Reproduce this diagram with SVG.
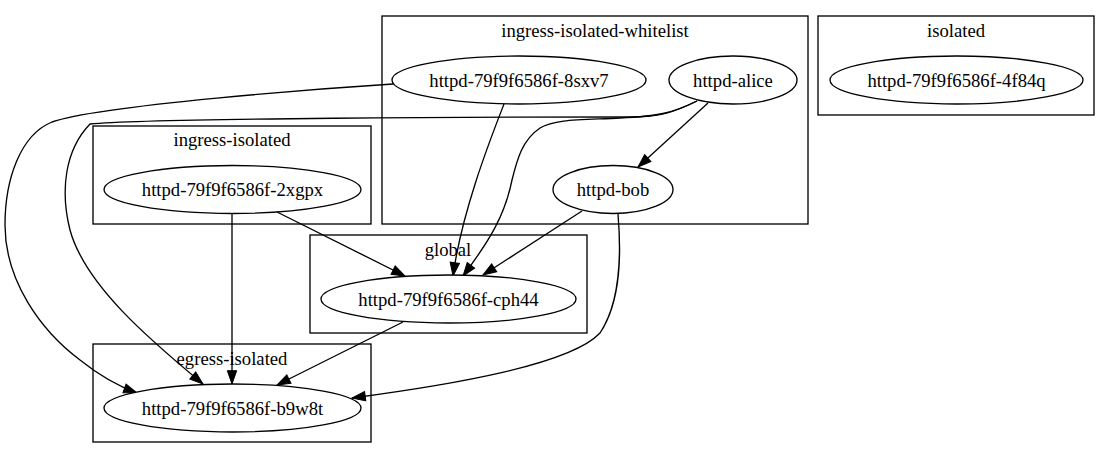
<svg xmlns="http://www.w3.org/2000/svg" width="1110" height="459" viewBox="0 0 1110 459">
<style>
text{font-family:"Liberation Serif","Times New Roman",serif;font-size:18.67px;text-anchor:middle;fill:#000}
.cl{fill:none;stroke:#000;stroke-width:1.33}
.nd{fill:#fff;stroke:#000;stroke-width:1.33}
.ed{fill:none;stroke:#000;stroke-width:1.33;marker-end:url(#ah)}
</style>
<defs>
<marker id="ah" markerUnits="userSpaceOnUse" markerWidth="14" markerHeight="10" refX="13.3" refY="4.67" orient="auto" overflow="visible">
<path d="M0,0 L13.3,4.67 L0,9.33 z" fill="#000" stroke="#000" stroke-width="1"/>
</marker>
</defs>
<rect width="1110" height="459" fill="#fff"/>
<g id="clusters">
<g id="cluster-whitelist"><rect class="cl" x="382" y="16" width="426" height="208"/><text x="595" y="37">ingress-isolated-whitelist</text></g>
<g id="cluster-isolated"><rect class="cl" x="818" y="16" width="276" height="99"/><text x="956" y="37">isolated</text></g>
<g id="cluster-ingress-isolated"><rect class="cl" x="93" y="126" width="278" height="98"/><text x="232" y="146">ingress-isolated</text></g>
<g id="cluster-global"><rect class="cl" x="310" y="235" width="277" height="98"/><text x="448" y="256">global</text></g>
<g id="cluster-egress-isolated"><rect class="cl" x="93" y="344" width="278" height="98"/><text x="232" y="365">egress-isolated</text></g>
</g>
<g id="connectors">
<path class="ed" d="M393,84 C330,88 100,105 52,122 C20,135 5,180 5,225 C5,280 40,330 80,360 C95,372 115,385 137,393"/>
<path class="ed" d="M697,101 C675,112 660,117 630,117 C500,117 150,118 90,124 C65,150 60,190 70,230 C85,285 150,340 203,384"/>
<path class="ed" d="M697,101 C672,113 660,116 620,118 C580,120 555,119 540,128 C522,140 517,160 512,180 C505,215 490,240 463,276"/>
<path class="ed" d="M504,104 C492,135 462,210 453,276"/>
<path class="ed" d="M708,103 L638,167"/>
<path class="ed" d="M582,211 L483,275"/>
<path class="ed" d="M618,214 C621,250 622,300 600,333 C570,365 450,385 352,398"/>
<path class="ed" d="M232,213 L232,384"/>
<path class="ed" d="M277,212 L405,276"/>
<path class="ed" d="M403,322 L277,385"/>
</g>
<g id="node-8sxv7"><ellipse class="nd" cx="519" cy="80" rx="127" ry="24"/><text x="519" y="86.5">httpd-79f9f6586f-8sxv7</text></g>
<g id="node-alice"><ellipse class="nd" cx="733" cy="80" rx="64" ry="24"/><text x="733" y="86.5">httpd-alice</text></g>
<g id="node-bob"><ellipse class="nd" cx="613" cy="189.5" rx="60" ry="24"/><text x="613" y="196">httpd-bob</text></g>
<g id="node-4f84q"><ellipse class="nd" cx="956.5" cy="80" rx="126.5" ry="24"/><text x="956.5" y="86.5">httpd-79f9f6586f-4f84q</text></g>
<g id="node-2xgpx"><ellipse class="nd" cx="232.5" cy="189.5" rx="128.5" ry="24"/><text x="232.5" y="196">httpd-79f9f6586f-2xgpx</text></g>
<g id="node-cph44"><ellipse class="nd" cx="448.5" cy="299" rx="127.5" ry="24"/><text x="448.5" y="305.5">httpd-79f9f6586f-cph44</text></g>
<g id="node-b9w8t"><ellipse class="nd" cx="232.5" cy="408" rx="128.5" ry="24"/><text x="232.5" y="414.5">httpd-79f9f6586f-b9w8t</text></g>
</svg>
